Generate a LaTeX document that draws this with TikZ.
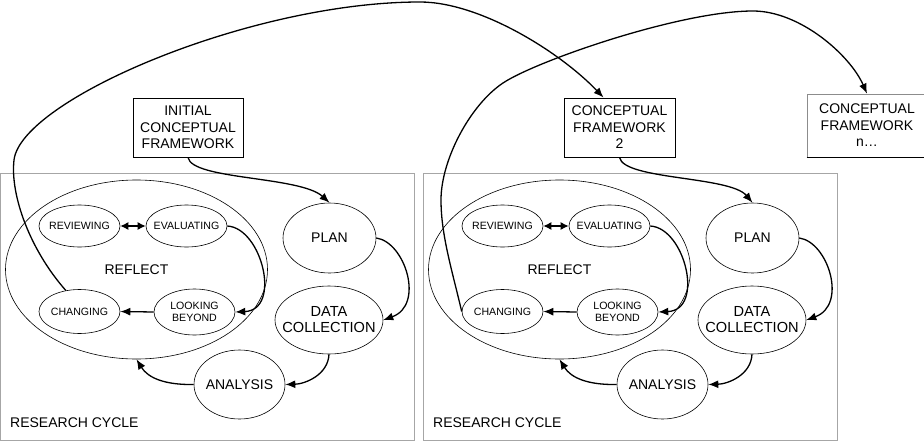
\documentclass[tikz,border=0pt]{standalone}
\usepackage{fontspec}
\setmainfont{Liberation Sans}
\usetikzlibrary{shapes.geometric,arrows.meta,calc}
\begin{document}
\begin{tikzpicture}[x=1pt,y=-1pt,
  ell/.style={ellipse,draw,line width=0.6pt,inner sep=0pt},
  big/.style={font=\fontsize{14}{16}\selectfont},
  dcf/.style={font=\fontsize{14.6}{16}\selectfont,align=center},
  small/.style={font=\fontsize{10.6}{12}\selectfont,align=center},
  arr/.style={line width=1.3pt,-{Latex[length=10pt,width=8pt]}},
  dbl/.style={line width=1.3pt,{Latex[length=8pt,width=8pt]}-{Latex[length=8pt,width=8pt]}},
  cfbox/.style={draw,line width=0.9pt,minimum width=110pt,minimum height=59pt,align=center,inner sep=0pt,font=\fontsize{14}{16.5}\selectfont},
  frame/.style={draw=black!35,line width=0.8pt}]
\useasboundingbox (0,0) rectangle (924,442);

\foreach \o/\cyc in {0/a,423/b}{
  \draw[frame] (\o+0.5,173) rectangle (\o+414,440);
  \node[ell,minimum width=262,minimum height=179,label={[big]center:REFLECT}] (refl\cyc) at (\o+136.5,269.5) {};
  \node[ell,minimum width=81,minimum height=42,label={[small]center:REVIEWING}] (rev\cyc) at (\o+79.5,226) {};
  \node[ell,minimum width=81,minimum height=42,label={[small]center:EVALUATING}] (eva\cyc) at (\o+186.5,226) {};
  \node[ell,minimum width=81,minimum height=44,label={[small]center:CHANGING}] (chg\cyc) at (\o+79.5,311.5) {};
  \node[ell,minimum width=81,minimum height=46,label={[small]center:LOOKING\\BEYOND}] (lkb\cyc) at (\o+194.5,312) {};
  \node[ell,minimum width=93,minimum height=70,label={[big]center:PLAN}] (plan\cyc) at (\o+329.5,238) {};
  \node[ell,minimum width=108,minimum height=68,label={[dcf]center:DATA\\COLLECTION}] (dc\cyc) at (\o+329,320) {};
  \node[ell,minimum width=91,minimum height=69,label={[big]center:ANALYSIS}] (ana\cyc) at (\o+239.5,384.5) {};
  \node[big,anchor=base west,inner sep=0pt] (rc\cyc) at (\o+10,427) {RESEARCH CYCLE};
  \draw[dbl] (rev\cyc.east) -- (eva\cyc.west);
  \draw[arr] (eva\cyc.east) .. controls (\o+262,228) and (\o+282,310) .. (lkb\cyc.east);
  \draw[arr] (lkb\cyc.west) -- (chg\cyc.east);
  \draw[arr] (plan\cyc.east) .. controls (\o+405,242) and (\o+425,305) .. (dc\cyc.east);
  \draw[arr] (dc\cyc.south) .. controls (\o+328,375) and (\o+305,384) .. (ana\cyc.east);
  \draw[arr] (ana\cyc.west) .. controls (\o+165,385) and (\o+148,378) .. (refl\cyc.south);
}

\node[cfbox] (init) at (188,127.5) {INITIAL\\CONCEPTUAL\\FRAMEWORK};
\node[cfbox,minimum width=111pt] (cf2) at (619.5,127.5) {CONCEPTUAL\\FRAMEWORK\\2};
\node[draw=black!45,line width=0.8pt,minimum width=120pt,minimum height=63pt,align=center,inner sep=0pt,font=\fontsize{14}{16.5}\selectfont] (cfn) at (867,125.5) {CONCEPTUAL\\FRAMEWORK\\n\ldots};
\draw[line width=1.4pt] (cfn.south west) -- (cfn.south east);

\draw[arr] (init.south) .. controls (192,180) and (300,176) .. (plana.north);
\draw[arr] (cf2.south) .. controls (624,180) and (730,176) .. (planb.north);

\draw[arr] (chga.123) .. controls (30,250) and (10,195) .. (14,160)
  .. controls (21,100) and (250,2) .. (420,2)
  .. controls (480,2) and (560,52) .. ($(cf2.north)+(-16,0)$);

\draw[arr] (chgb.west) .. controls (452,270) and (441,235) .. (441,200)
  .. controls (441,160) and (470,105) .. (503,83)
  .. controls (536,61) and (680,11) .. (753,11)
  .. controls (800,11) and (850,55) .. (cfn.north);
\end{tikzpicture}
\end{document}
